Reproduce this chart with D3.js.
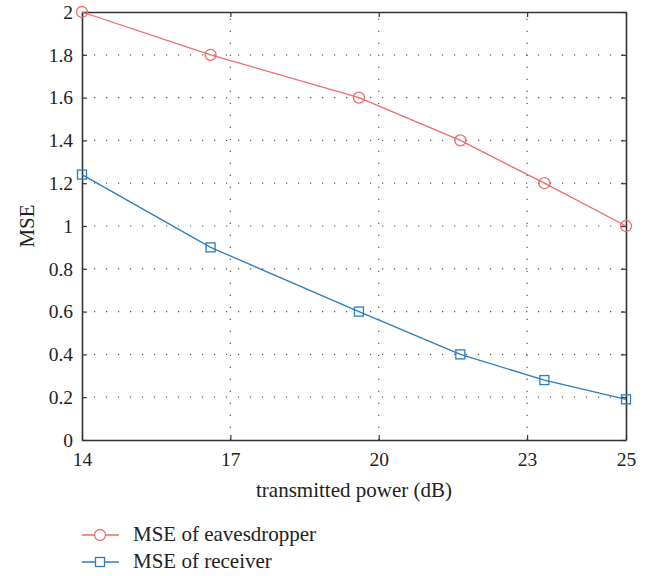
<!DOCTYPE html>
<html><head><meta charset="utf-8">
<script src="https://cdn.jsdelivr.net/npm/d3@7"></script>
<style>body{margin:0;background:#fff}</style>
</head><body>
<svg id="c" width="649" height="576"></svg>
<script>
const power = [14, 16.6, 19.6, 21.65, 23.35, 25];
const mseEavesdropper = [2.0, 1.8, 1.6, 1.4, 1.2, 1.0];
const mseReceiver = [1.24, 0.9, 0.6, 0.4, 0.28, 0.19];
const xTicks = [14, 17, 20, 23, 25];
const yTicks = [0, 0.2, 0.4, 0.6, 0.8, 1, 1.2, 1.4, 1.6, 1.8, 2];
const seriesNames = ["MSE of eavesdropper", "MSE of receiver"];

const FONT = "'Liberation Serif', 'Times New Roman', 'DejaVu Serif', serif";
const FS = 19.5, FL = 21;
const svg = d3.select("#c");
const L = 82, R = 626, T = 12, B = 440;
const x = d3.scaleLinear().domain([14, 25]).range([L, R]);
const y = d3.scaleLinear().domain([0, 2]).range([B, T]);
const red = "#f06a6a", blue = "#2a7dc0";

// grid
const g = svg.append("g");
g.selectAll(".gx").data(xTicks.slice(1, -1)).join("line")
  .attr("x1", d => x(d)).attr("x2", d => x(d)).attr("y1", B).attr("y2", T)
  .attr("stroke", "#555").attr("stroke-width", 1.2).attr("stroke-dasharray", "1.2,10.8");
g.selectAll(".gy").data(yTicks.slice(1, -1)).join("line")
  .attr("y1", d => y(d)).attr("y2", d => y(d)).attr("x1", L).attr("x2", R)
  .attr("stroke", "#555").attr("stroke-width", 1.2).attr("stroke-dasharray", "1.2,10.8");

// axes
const fmt = d => d3.format("~g")(d);
const ax = svg.append("g").attr("transform", `translate(0,${B})`)
  .call(d3.axisBottom(x).tickValues(xTicks).tickSizeInner(-5).tickSizeOuter(0).tickPadding(12));
const ay = svg.append("g").attr("transform", `translate(${L},0)`)
  .call(d3.axisLeft(y).tickValues(yTicks).tickFormat(fmt).tickSizeInner(-5).tickSizeOuter(0).tickPadding(9));
const at = svg.append("g").attr("transform", `translate(0,${T})`)
  .call(d3.axisTop(x).tickValues(xTicks).tickSizeInner(-5).tickSizeOuter(0).tickFormat(""));
const ar = svg.append("g").attr("transform", `translate(${R},0)`)
  .call(d3.axisRight(y).tickValues(yTicks).tickSizeInner(-5).tickSizeOuter(0).tickFormat(""));
[ax, ay, at, ar].forEach(a => {
  a.attr("font-family", FONT).attr("font-size", FS);
  a.select(".domain").attr("stroke", "#333").attr("stroke-width", 1.6);
  a.selectAll(".tick line").attr("stroke", "#333").attr("stroke-width", 1.2);
  a.selectAll("text").attr("fill", "#222");
});

// lines
const line = d3.line().x((d, i) => x(power[i])).y(d => y(d));
svg.append("path").datum(mseEavesdropper).attr("d", line).attr("fill", "none").attr("stroke", red).attr("stroke-width", 1.3);
svg.append("path").datum(mseReceiver).attr("d", line).attr("fill", "none").attr("stroke", blue).attr("stroke-width", 1.3);
svg.selectAll(".ce").data(mseEavesdropper).join("circle")
  .attr("cx", (d, i) => x(power[i])).attr("cy", d => y(d)).attr("r", 5.5)
  .attr("fill", "none").attr("stroke", red).attr("stroke-width", 1.3);
svg.selectAll(".sr").data(mseReceiver).join("rect")
  .attr("x", (d, i) => x(power[i]) - 4.5).attr("y", d => y(d) - 4.5).attr("width", 9).attr("height", 9)
  .attr("fill", "none").attr("stroke", blue).attr("stroke-width", 1.3);

// labels
svg.append("text").attr("x", 354).attr("y", 497).attr("text-anchor", "middle")
  .attr("font-family", FONT).attr("font-size", FL).attr("fill", "#222").text("transmitted power (dB)");
svg.append("text").attr("transform", `translate(34,${(T + B) / 2}) rotate(-90)`).attr("text-anchor", "middle")
  .attr("font-family", FONT).attr("font-size", FL).attr("fill", "#222").text("MSE");

// legend
const lg = svg.append("g");
const ly = [535, 562];
[red, blue].forEach((c, i) => {
  lg.append("line").attr("x1", 82).attr("x2", 119).attr("y1", ly[i]).attr("y2", ly[i]).attr("stroke", c).attr("stroke-width", 1.3);
  if (i === 0) lg.append("circle").attr("cx", 100).attr("cy", ly[i]).attr("r", 5.5).attr("fill", "#fff").attr("stroke", c).attr("stroke-width", 1.3);
  else lg.append("rect").attr("x", 95.5).attr("y", ly[i] - 4.5).attr("width", 9).attr("height", 9).attr("fill", "#fff").attr("stroke", c).attr("stroke-width", 1.3);
  lg.append("text").attr("x", 133).attr("y", ly[i] + 6).attr("font-family", FONT).attr("font-size", FL).attr("fill", "#222").text(seriesNames[i]);
});
</script>
</body></html>
